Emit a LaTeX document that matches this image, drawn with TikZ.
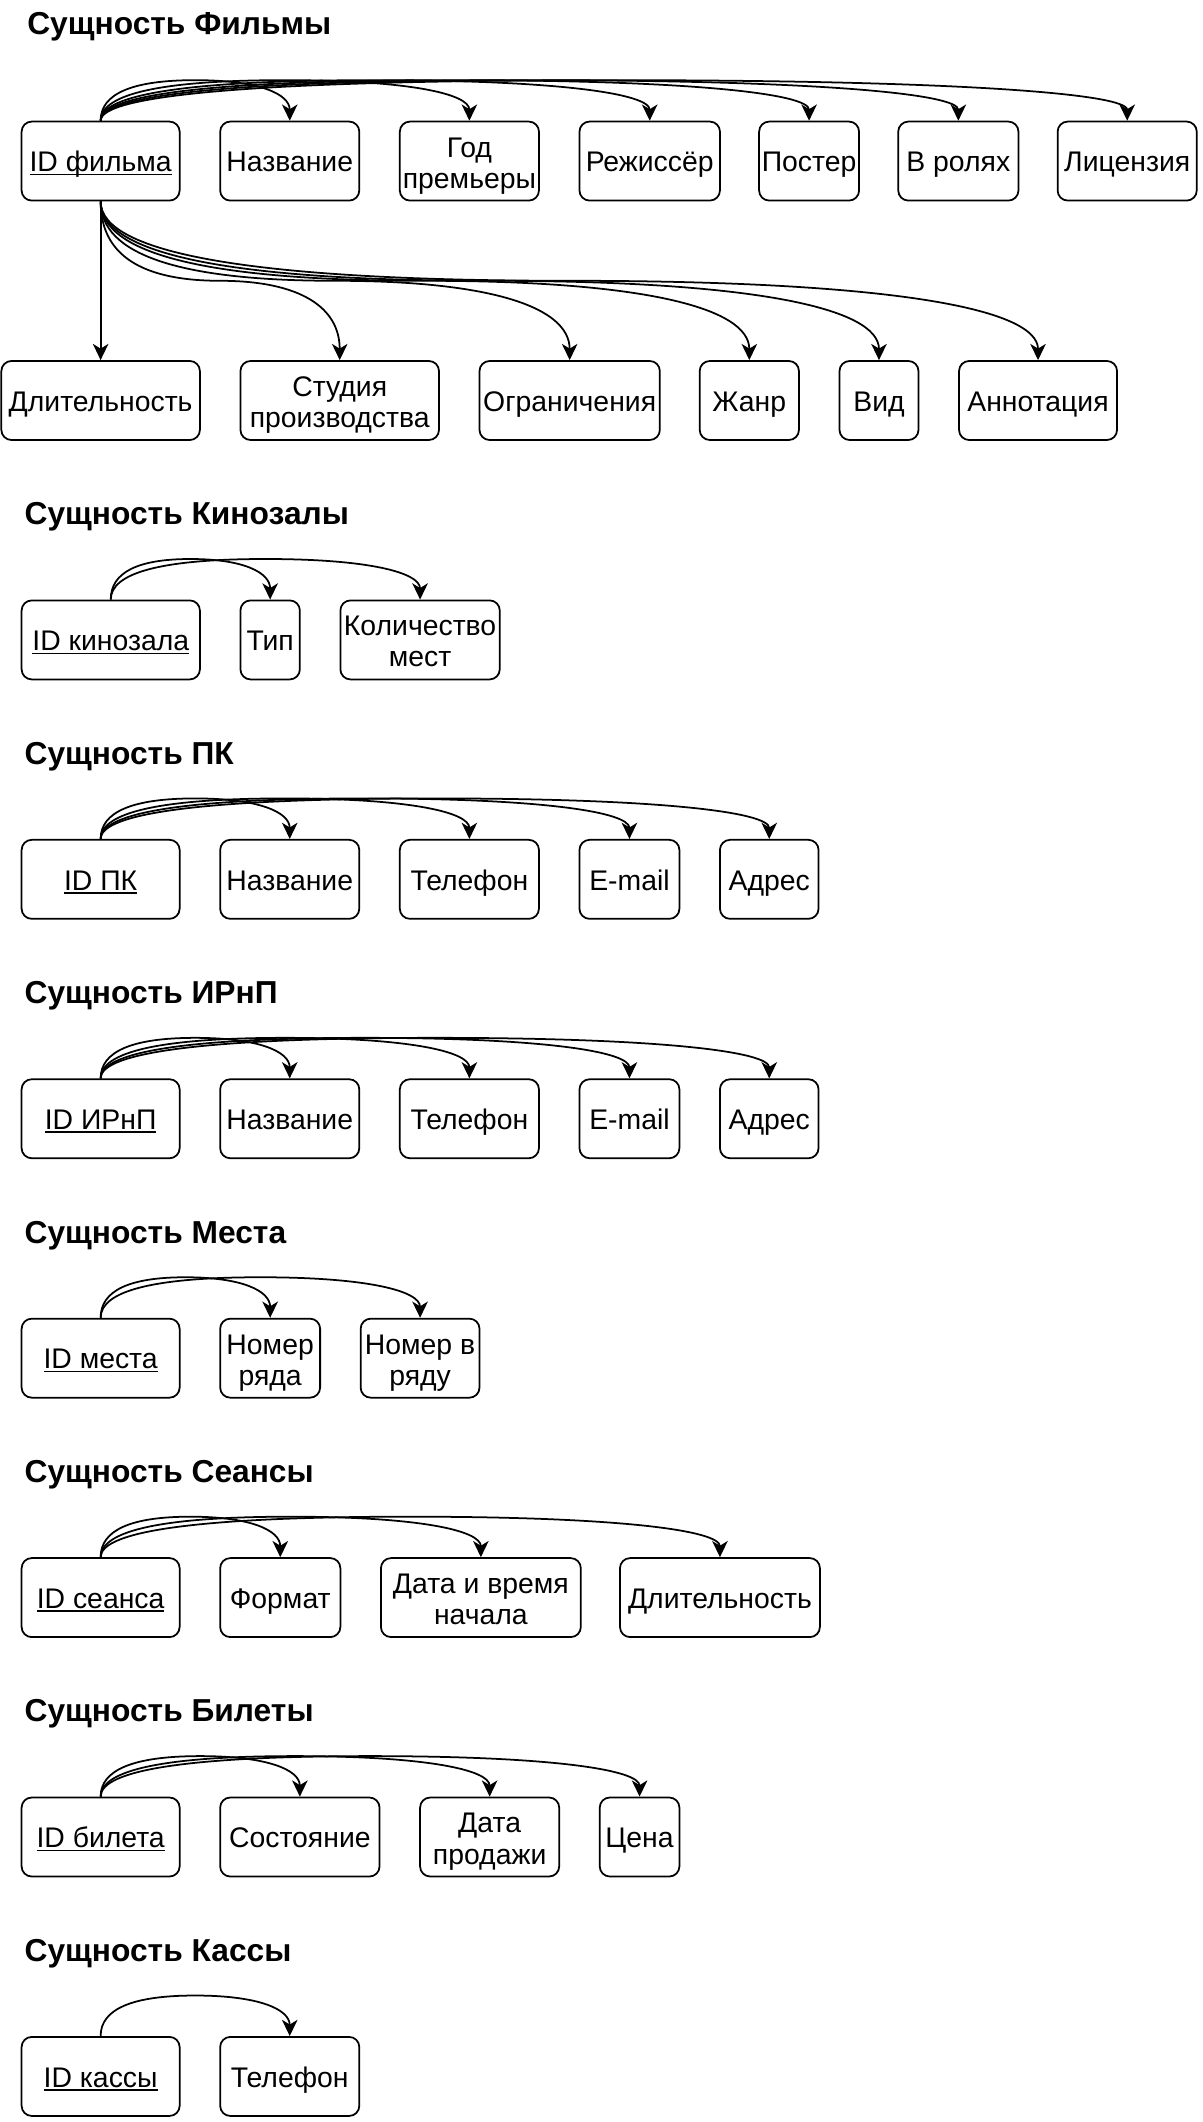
\documentclass[tikz,border=0pt]{standalone}
\usepackage{fontspec}
\setmainfont{Liberation Sans}
\usetikzlibrary{arrows.meta,calc}
\newcommand\ulid[1]{\setbox0\hbox{#1}\rlap{\rule[-2.6pt]{\wd0}{1.2pt}}\box0}
\tikzset{
 box/.style={draw, line width=1.3pt, rounded corners=7.5pt, inner sep=0pt, minimum height=58.5pt, align=center, text height=16pt, text depth=0pt, font=\fontsize{21}{23}\selectfont},
 twoline/.style={text height=40pt, text depth=0pt},
 arr/.style={line width=1.3pt, -{Stealth[length=12pt,width=11.5pt,inset=3.5pt]}},
 ttl/.style={anchor=base west, inner sep=0pt, font=\fontsize{23.5}{27}\selectfont\bfseries}
}
\newcommand\bx[5]{\node[box, minimum width={(#3)-(#2)}] (#1) at ({((#2)+(#3))/2},{-(#4)-29.25}) {#5};}
\newcommand\bxtwo[5]{\node[box, twoline, minimum width={(#3)-(#2)}] (#1) at ({((#2)+(#3))/2},{-(#4)-29.25}) {#5};}
\newcommand\relarrow[3]{%
 \draw[arr] let \p1=(#1), \p2=(#2), \p3=(#3) in (\p1) .. controls (\x1,{\y1+2*(\y3-\y1)/3}) and ({\x1+(\x2-\x1)/6},\y3) .. ({(\x1+\x2)/2},\y3) .. controls ({\x2-(\x2-\x1)/6},\y3) and (\x2,{\y2+2*(\y3-\y2)/3}) .. (\p2);}
\newcommand\toprel[2]{\relarrow{#1.north}{#2.north}{$(#1.north)+(0,30)$}}
\newcommand\botrel[2]{\relarrow{#1.south}{#2.north}{$(#1.south)!0.5!(#2.north)$}}
\begin{document}
\begin{tikzpicture}[x=1pt,y=1pt]
\useasboundingbox (0,0) rectangle (890,-1571);
% titles
\node[ttl] (t1) at (20,-25.5) {Сущность Фильмы};
\node[ttl] (t2) at (18,-388.5) {Сущность Кинозалы};
\node[ttl] (t3) at (18,-565.75) {Сущность ПК};
\node[ttl] (t4) at (18,-743) {Сущность ИРнП};
\node[ttl] (t5) at (18,-920.25) {Сущность Места};
\node[ttl] (t6) at (18,-1097.5) {Сущность Сеансы};
\node[ttl] (t7) at (18,-1274.75) {Сущность Билеты};
\node[ttl] (t8) at (18,-1452) {Сущность Кассы};
% Фильмы
\bx{f0}{16}{133}{90}{\ulid{ID фильма}}
\bx{f1}{163}{266}{90}{Название}
\bxtwo{f2}{296}{399}{90}{Год\\премьеры}
\bx{f3}{429}{533}{90}{Режиссёр}
\bx{f4}{562}{636}{90}{Постер}
\bx{f5}{665}{754}{90}{В ролях}
\bx{f6}{783}{886}{90}{Лицензия}
\bx{g1}{1}{148}{267.25}{Длительность}
\bxtwo{g2}{178}{325}{267.25}{Студия\\производства}
\bx{g3}{355}{488.5}{267.25}{Ограничения}
\bx{g4}{518}{591.5}{267.25}{Жанр}
\bx{g5}{621.5}{680}{267.25}{Вид}
\bx{g6}{710}{827}{267.25}{Аннотация}
% Кинозалы
\bx{k0}{16}{148}{444.5}{\ulid{ID кинозала}}
\bx{k1}{178}{222}{444.5}{Тип}
\bxtwo{k2}{252}{370}{444.5}{Количество\\мест}
% ПК
\bx{p0}{16}{133}{621.75}{\ulid{ID ПК}}
\bx{p1}{163}{266}{621.75}{Название}
\bx{p2}{296}{399}{621.75}{Телефон}
\bx{p3}{429}{503}{621.75}{E-mail}
\bx{p4}{533}{606}{621.75}{Адрес}
% ИРнП
\bx{i0}{16}{133}{799}{\ulid{ID ИРнП}}
\bx{i1}{163}{266}{799}{Название}
\bx{i2}{296}{399}{799}{Телефон}
\bx{i3}{429}{503}{799}{E-mail}
\bx{i4}{533}{606}{799}{Адрес}
% Места
\bx{m0}{16}{133}{976.25}{\ulid{ID места}}
\bxtwo{m1}{163}{237}{976.25}{Номер\\ряда}
\bxtwo{m2}{267}{355}{976.25}{Номер в\\ряду}
% Сеансы
\bx{s0}{16}{133}{1153.5}{\ulid{ID сеанса}}
\bx{s1}{163}{252}{1153.5}{Формат}
\bxtwo{s2}{282}{430}{1153.5}{Дата и время\\начала}
\bx{s3}{459}{607}{1153.5}{Длительность}
% Билеты
\bx{b0}{16}{133}{1330.75}{\ulid{ID билета}}
\bx{b1}{163}{281}{1330.75}{Состояние}
\bxtwo{b2}{311}{414}{1330.75}{Дата\\продажи}
\bx{b3}{444}{503}{1330.75}{Цена}
% Кассы
\bx{c0}{16}{133}{1508}{\ulid{ID кассы}}
\bx{c1}{163}{266}{1508}{Телефон}
% arrows
\foreach \t in {f1,f2,f3,f4,f5,f6} {\toprel{f0}{\t}}
\draw[arr] (f0.south) -- (g1.north);
\foreach \t in {g2,g3,g4,g5,g6} {\botrel{f0}{\t}}
\foreach \t in {k1,k2} {\toprel{k0}{\t}}
\foreach \t in {p1,p2,p3,p4} {\toprel{p0}{\t}}
\foreach \t in {i1,i2,i3,i4} {\toprel{i0}{\t}}
\foreach \t in {m1,m2} {\toprel{m0}{\t}}
\foreach \t in {s1,s2,s3} {\toprel{s0}{\t}}
\foreach \t in {b1,b2,b3} {\toprel{b0}{\t}}
\toprel{c0}{c1}
\end{tikzpicture}
\end{document}
